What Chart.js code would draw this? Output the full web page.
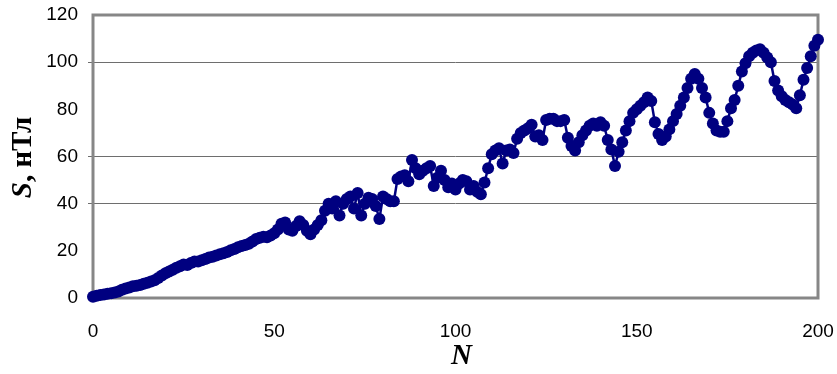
<!DOCTYPE html>
<html>
<head>
<meta charset="utf-8">
<script src="https://cdn.jsdelivr.net/npm/chart.js@4/dist/chart.umd.min.js"></script>
<style>
html,body{margin:0;padding:0;background:#fff;}
#wrap{width:837px;height:374px;}
</style>
</head>
<body>
<div id="wrap"><canvas id="c" width="837" height="374"></canvas></div>
<script>
// S values (nT) for N = 0..200
const sValues = [
  0.5, 1, 1.3, 1.5, 1.8, 2, 2.3, 2.8, 3.5, 4,
  4.5, 5, 5.2, 5.5, 6, 6.5, 7, 7.5, 8.5, 9.5,
  10.5, 11.2, 12, 12.8, 13.5, 14.2, 14, 14.8, 15.5, 15.5,
  16, 16.5, 17.2, 17.5, 18, 18.5, 19, 19.5, 20.2, 20.8,
  21.5, 22, 22.5, 23, 24, 25, 25.5, 26, 25.8, 26.5,
  27.5, 29, 31.5, 32, 29, 28.5, 30.5, 32.5, 31, 28.5,
  27, 29, 31, 33, 37, 40, 38, 41, 35, 40,
  42, 43, 38, 44.5, 35, 40, 42.5, 42, 39, 33.5,
  43, 42, 41, 41, 50.5, 51.5, 52, 49.5, 58.5, 55,
  52.5, 54, 55, 56, 47.5, 51, 54, 50, 47, 48.5,
  46, 48.5, 50, 49.5, 46, 47.5, 45, 44, 49, 55,
  61, 62.5, 63.5, 57, 62.5, 63, 61.5, 67.5, 70, 71,
  72, 73.5, 68.5, 69, 67, 75.5, 76, 76, 75, 75,
  75.5, 68, 64.5, 62.5, 66, 69, 71, 73, 74, 73,
  74.5, 73, 67, 63, 56, 62, 66, 71, 75, 78.5,
  80, 81.5, 83, 85, 83.5, 74.5, 69.5, 67, 68.5, 71.5,
  75, 78, 81.5, 85, 89, 93, 95, 93, 89, 85,
  78.5, 74, 71, 70.5, 70.5, 75, 80.5, 84, 90, 96,
  99.5, 102.5, 104, 105, 105.5, 104, 102, 100, 92, 88,
  85.5, 84, 83, 82, 80.5, 86, 92.5, 97.5, 102.5, 107,
  109.5
];
// N (sample number) categories
const nValues = sValues.map((_, i) => i);
const xTicks = [0, 50, 100, 150, 200];
const yTicks = [0, 20, 40, 60, 80, 100, 120];
const yGridShown = [40, 60, 100];

const points = nValues.map((n, i) => ({x: n, y: sValues[i]}));

const frameAndTitles = {
  id: 'frameAndTitles',
  beforeDatasetsDraw(chart) {
    const {ctx, chartArea: a} = chart;
    ctx.save();
    ctx.strokeStyle = '#878787';
    ctx.lineWidth = 3;
    ctx.strokeRect(a.left, a.top, a.right - a.left, a.bottom - a.top);
    ctx.restore();
  },
  afterDraw(chart) {
    const {ctx, chartArea: a} = chart;
    ctx.save();
    ctx.fillStyle = '#000';
    // Y title: "S, нТл" with italic S
    const f1 = 'italic bold 29px "Liberation Serif", "Times New Roman", serif';
    const f2 = 'bold 29px "Liberation Serif", "Times New Roman", serif';
    ctx.font = f1; const w1 = ctx.measureText('S').width;
    ctx.font = f2; const w2 = ctx.measureText(', нТл').width;
    const cy = (a.top + a.bottom) / 2 + 1;
    ctx.translate(24, cy);
    ctx.rotate(-Math.PI / 2);
    ctx.textBaseline = 'middle';
    ctx.textAlign = 'left';
    const start = -(w1 + w2) / 2;
    ctx.font = f1; ctx.fillText('S', start, 0);
    ctx.font = f2; ctx.fillText(', нТл', start + w1, 0);
    ctx.restore();
    // X title: N
    ctx.save();
    ctx.fillStyle = '#000';
    ctx.font = 'italic bold 29px "Liberation Serif", "Times New Roman", serif';
    ctx.textAlign = 'center';
    ctx.textBaseline = 'middle';
    ctx.fillText('N', (a.left + a.right) / 2 + 6, 357);
    ctx.restore();
  }
};

new Chart(document.getElementById('c'), {
  type: 'line',
  data: {
    datasets: [{
      data: points,
      borderColor: '#000080',
      backgroundColor: '#000080',
      borderWidth: 2.5,
      pointRadius: 6,
      pointHoverRadius: 6,
      pointBorderWidth: 0,
      pointBackgroundColor: '#000080',
      tension: 0,
      clip: false
    }]
  },
  options: {
    responsive: false,
    animation: false,
    devicePixelRatio: 1,
    layout: {padding: {top: 15, right: 19, left: 0, bottom: 0}},
    plugins: {legend: {display: false}, tooltip: {enabled: false}},
    scales: {
      x: {
        type: 'linear',
        min: 0, max: 200,
        afterBuildTicks: s => { s.ticks = xTicks.map(v => ({value: v})); },
        afterFit: s => { s.height = 76; s.paddingLeft = 0; s.paddingRight = 0; },
        grid: {display: false, drawTicks: false},
        border: {display: false},
        ticks: {
          color: '#000',
          padding: 22,
          maxRotation: 0,
          font: {family: '"Liberation Sans", Arial, sans-serif', size: 19}
        }
      },
      y: {
        min: 0, max: 120,
        afterBuildTicks: s => { s.ticks = yTicks.map(v => ({value: v})); },
        afterFit: s => { s.width = 93; s.paddingTop = 0; s.paddingBottom = 0; },
        grid: {
          color: c => yGridShown.includes(c.tick && c.tick.value) ? '#6e6e6e' : 'rgba(0,0,0,0)',
          lineWidth: 1,
          tickLength: 5
        },
        border: {display: false},
        ticks: {
          color: '#000',
          padding: 10,
          font: {family: '"Liberation Sans", Arial, sans-serif', size: 19}
        }
      }
    }
  },
  plugins: [frameAndTitles]
});
</script>
</body>
</html>
